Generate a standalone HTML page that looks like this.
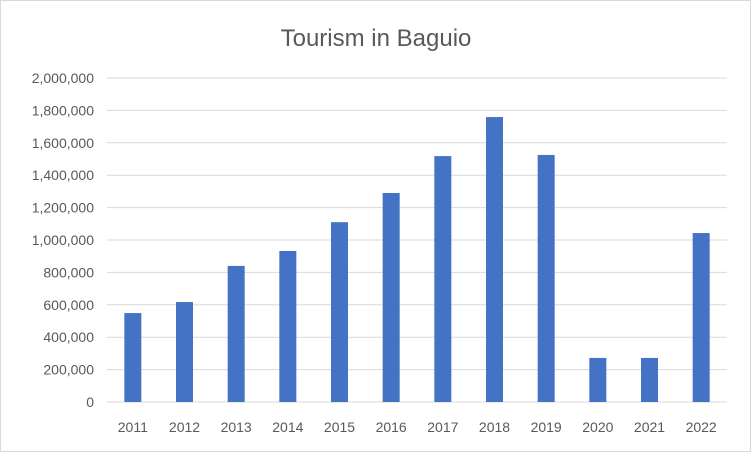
<!DOCTYPE html>
<html><head><meta charset="utf-8"><style>
body{margin:0;background:#fff;}
svg{display:block;font-family:"Liberation Sans",sans-serif;}
</style></head><body>
<svg id="chart" width="751" height="452">
<rect x="0.5" y="0.5" width="750" height="451" fill="#fff" stroke="#d9d9d9"/>
<text x="376" y="46" text-anchor="middle" font-size="24" fill="#595959">Tourism in Baguio</text>
<g id="grid"></g><g id="bars"></g><g id="labels"></g>
</svg>
<script>
const categories=["2011","2012","2013","2014","2015","2016","2017","2018","2019","2020","2021","2022"];
const visitors=[549000,617000,840000,932000,1110000,1290000,1518000,1759000,1525000,272000,272000,1043000];
const yTicks=[0,200000,400000,600000,800000,1000000,1200000,1400000,1600000,1800000,2000000];
const NS="http://www.w3.org/2000/svg";
const x0=107,x1=727,y0=402,y1=78,yMax=2000000;
const y=v=>y0-(v/yMax)*(y0-y1);
const band=(x1-x0)/categories.length;
const xc=i=>x0+band*(i+0.5);
const grid=document.getElementById('grid'),bars=document.getElementById('bars'),labels=document.getElementById('labels');
function mk(t,a){const e=document.createElementNS(NS,t);for(const k in a)e.setAttribute(k,a[k]);return e;}
yTicks.forEach(v=>{
  const l=mk('line',{x1:x0,x2:x1,y1:y(v),y2:y(v),stroke:'#d9d9d9','stroke-width':1});
  
  
  grid.appendChild(l);
  const t=mk('text',{x:x0-13,y:y(v)+5,'text-anchor':'end','font-size':14,fill:'#595959'});
  t.textContent=v.toLocaleString('en-US');
  
  
  labels.appendChild(t);
});
categories.forEach((c,i)=>{
  const r=mk('rect',{x:xc(i)-8.5,y:y(visitors[i]),width:17,height:y0-y(visitors[i]),fill:'#4472c4'});
  
  
  bars.appendChild(r);
  const t=mk('text',{x:xc(i),y:432,'text-anchor':'middle','font-size':14,fill:'#595959'});
  t.textContent=c;
  
  
  labels.appendChild(t);
});
</script>
</body></html>
